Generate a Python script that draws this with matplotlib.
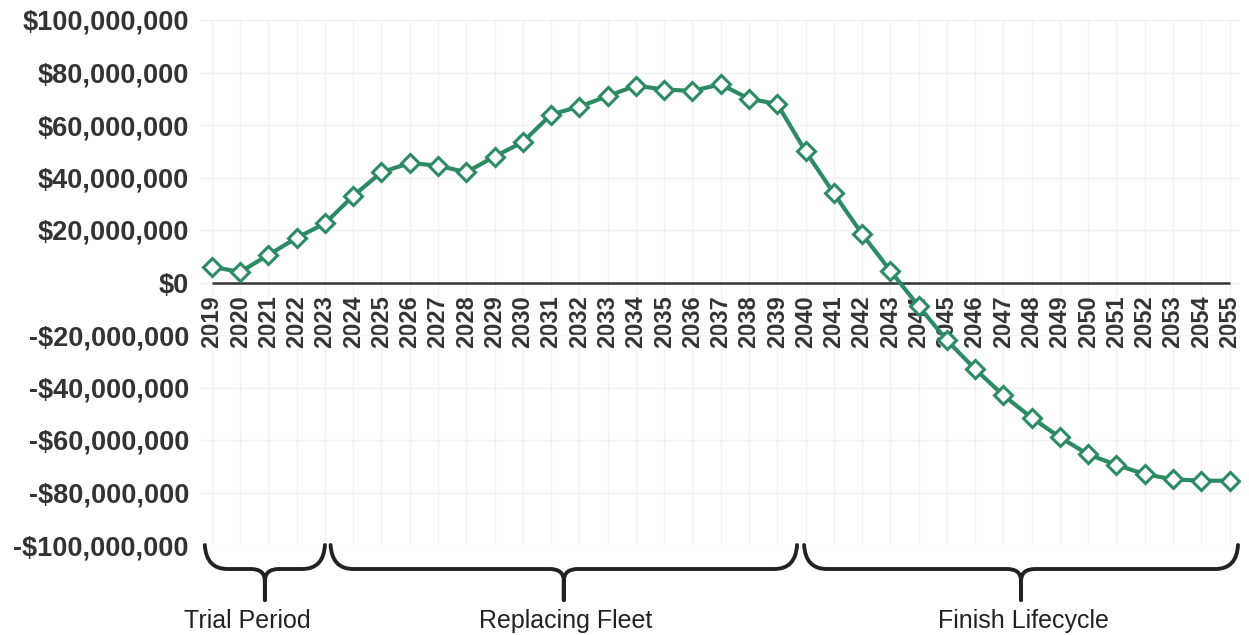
import numpy as np
import matplotlib
matplotlib.use('Agg')
import matplotlib.pyplot as plt
from matplotlib.path import Path
import matplotlib.patches as mpatches
import matplotlib.transforms as mtransforms
from matplotlib.ticker import FuncFormatter

# ============================================================
# data (values in $ millions)
# ============================================================
years = list(range(2019, 2056))
values_m = [6, 4, 10.5, 17, 22.5, 33, 42, 45.5, 44.5, 42, 48, 53.5,
            64, 67, 71, 75, 73.5, 73, 75.5, 70, 68, 50,
            34, 18.5, 4.5, -9, -22, -33, -43, -51.5, -59, -65.5,
            -69.5, -73, -75, -75.5, -75.5]
y_ticks_m = [100, 80, 60, 40, 20, 0, -20, -40, -60, -80, -100]

periods = ['Trial Period', 'Replacing Fleet', 'Finish Lifecycle']
period_spans = [(2018.75, 2023.0), (2023.2, 2039.7), (2039.95, 2055.3)]
label_x = [2020.25, 2031.5, 2047.7]

green = '#2c8a65'
dark = '#222222'

plt.rcParams['font.family'] = ['Liberation Sans', 'DejaVu Sans']

fig = plt.figure(figsize=(12.49, 6.35), dpi=100, facecolor='white')
W, H = 1249, 635
ax = fig.add_axes([200 / W, 1 - 545 / H, 1040 / W, 525 / H])

vals = np.array(values_m) * 1e6

# faint grid
ax.set_yticks(np.array(y_ticks_m) * 1e6)
ax.set_xticks(years)
ax.grid(True, color='#f2f2f2', linewidth=1.0)
ax.set_axisbelow(True)

# zero line spanning the data range
ax.hlines(0, years[0], years[-1], color='#333333', linewidth=1.8, zorder=2)

ax.plot(years, vals, color=green, linewidth=3.0, marker='D', markersize=9.5,
        markerfacecolor='white', markeredgecolor=green, markeredgewidth=2.2,
        zorder=3)

ax.set_xlim(2018.58, 2055.37)
ax.set_ylim(-100e6, 100e6)

def money(v, pos):
    v = int(round(v))
    return f'-${abs(v):,}' if v < 0 else f'${v:,}'

ax.yaxis.set_major_formatter(FuncFormatter(money))
ax.tick_params(axis='y', length=0, pad=8, labelsize=19.5, labelcolor='#333333')
for lab in ax.get_yticklabels():
    lab.set_fontweight('bold')

# x tick labels sit just under the zero line
ax.spines['bottom'].set_position(('data', 0))
for s in ax.spines.values():
    s.set_visible(False)
ax.set_xticklabels([str(y) for y in years], rotation=90, fontsize=17,
                   fontweight='bold', color='#333333')
ax.tick_params(axis='x', length=0, pad=9)

# curly braces below the plot
trans = mtransforms.blended_transform_factory(ax.transData, ax.transAxes)
px = 525.0
def brace(x0, x1):
    xm = (x0 + x1) / 2
    r = 0.8
    rc = 0.5
    yt, ym, yc, yb = 0.0, -24 / px, -36 / px, -55 / px
    verts = [(x0, yt), (x0 + 0.05, ym), (x0 + r, ym),
             (xm - rc, ym),
             (xm, ym), (xm, yc),
             (xm, yb),
             (xm, yc),
             (xm, ym), (xm + rc, ym),
             (x1 - r, ym),
             (x1 - 0.05, ym), (x1, yt)]
    codes = [Path.MOVETO, Path.CURVE3, Path.CURVE3,
             Path.LINETO,
             Path.CURVE3, Path.CURVE3,
             Path.LINETO,
             Path.LINETO,
             Path.CURVE3, Path.CURVE3,
             Path.LINETO,
             Path.CURVE3, Path.CURVE3]
    patch = mpatches.PathPatch(Path(verts, codes), facecolor='none',
                               edgecolor=dark, linewidth=2.8,
                               joinstyle='round', capstyle='round',
                               transform=trans, clip_on=False)
    ax.add_patch(patch)

for lab, (a, b), lx in zip(periods, period_spans, label_x):
    brace(a, b)
    ax.text(lx, -76 / px, lab, transform=trans, ha='center', va='center',
            fontsize=18, color=dark)

fig.savefig('out.png', dpi=100, facecolor='white')
